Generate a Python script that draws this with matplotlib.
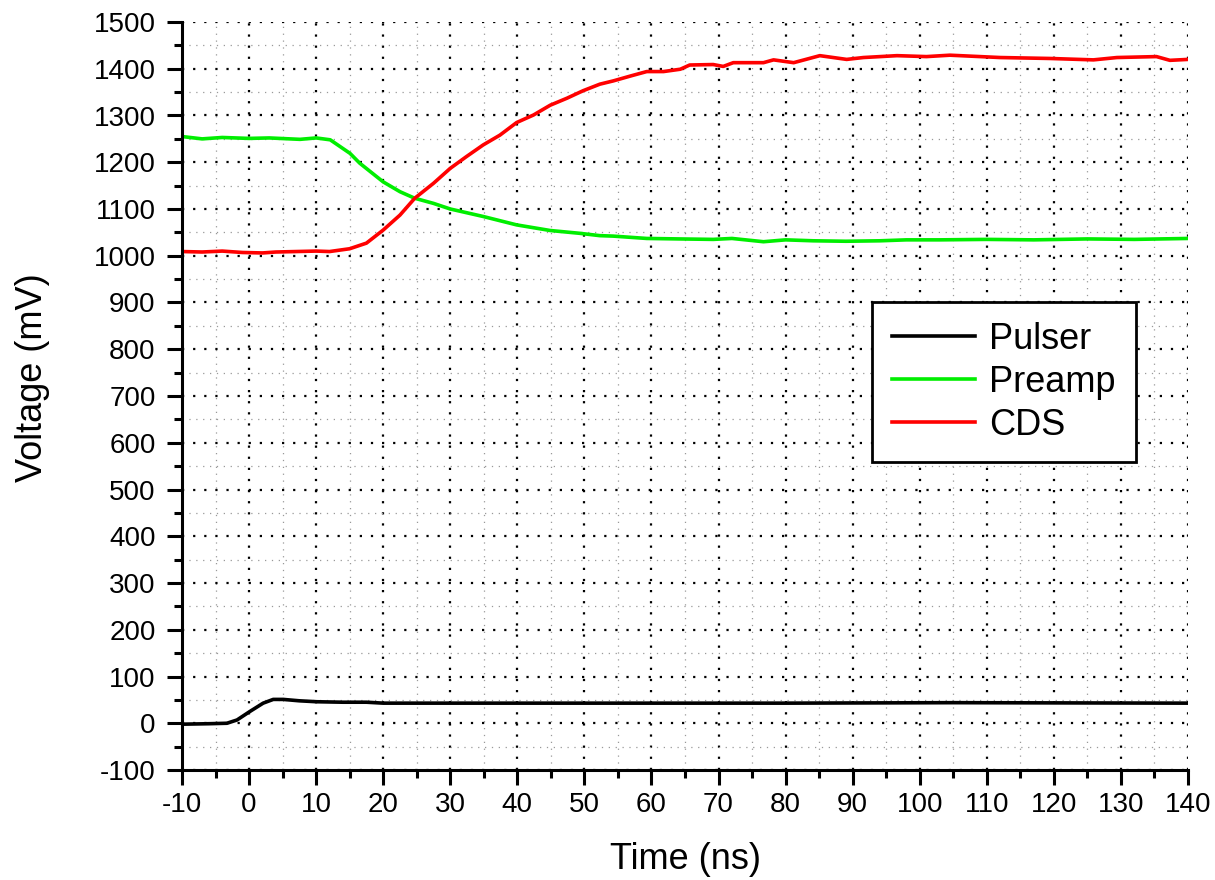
import numpy as np
import matplotlib.pyplot as plt
from matplotlib.ticker import MultipleLocator

plt.rcParams['font.family'] = ['Liberation Sans', 'DejaVu Sans']
plt.rcParams['axes.unicode_minus'] = False

# values (time in ns, voltage in mV)
pulser_t = [-10, -6, -3.3, -1.8, 0.1, 2.1, 3.6, 5.1, 7.5, 10.1, 14, 17.5, 20, 40, 80, 105, 140]
pulser_v = [-2, -1, 0, 7, 25, 43, 51, 51, 48, 46, 45, 45, 43, 43, 43, 44, 43]

preamp_t = [-10, -7, -4, 0, 3, 7.6, 10, 12.1, 15.05, 16.5, 20, 22.5, 24.7, 27.5, 30, 34.9,
            39.9, 44.9, 49.3, 52.3, 54.3, 59.3, 64, 69.2, 72, 76.7, 80, 84.1, 89, 94.1,
            98, 103, 110, 117, 125, 132, 140]
preamp_v = [1255, 1250, 1253, 1251, 1252, 1249, 1252, 1248, 1219, 1198, 1158, 1137, 1123,
            1112, 1100, 1084, 1066, 1054, 1048, 1043, 1042, 1037, 1036, 1035, 1037, 1030,
            1034, 1032, 1031, 1032, 1034, 1034, 1035, 1034, 1036, 1035, 1037]

cds_t = [-10, -7, -4, -1, 2, 4, 7, 10, 12, 15, 17.5, 20, 22.5, 24.7, 27.5, 30, 32.4, 34.9,
         37.4, 39.9, 42.4, 44.9, 47.4, 49.8, 52.3, 54.3, 57, 59.3, 61.8, 64.3, 65.7, 69.2,
         70.7, 72.2, 76.7, 78.2, 81.2, 85.1, 89.1, 91.6, 96.6, 101, 104.5, 112, 119.4,
         125.9, 129.4, 135.3, 137.3, 140]
cds_v = [1009, 1008, 1010, 1007, 1006, 1008, 1009, 1010, 1009, 1015, 1027, 1055, 1087, 1123,
         1155, 1187, 1212, 1237, 1258, 1285, 1301, 1322, 1337, 1353, 1367, 1374, 1385, 1394,
         1394, 1399, 1408, 1409, 1405, 1413, 1413, 1419, 1413, 1428, 1420, 1424, 1428, 1426,
         1429, 1424, 1422, 1419, 1424, 1426, 1418, 1420]

fig = plt.figure(figsize=(12.15, 8.8), dpi=100)
ax = fig.add_axes([0.1498, 0.125, 0.828, 0.85])

ax.plot(pulser_t, pulser_v, color='black', lw=2.6, label='Pulser')
ax.plot(preamp_t, preamp_v, color='#00ee00', lw=2.6, label='Preamp')
ax.plot(cds_t, cds_v, color='#ff0000', lw=2.6, label='CDS')

ax.set_xlim(-10, 140)
ax.set_ylim(-100, 1500)
ax.xaxis.set_major_locator(MultipleLocator(10))
ax.xaxis.set_minor_locator(MultipleLocator(5))
ax.yaxis.set_major_locator(MultipleLocator(100))
ax.yaxis.set_minor_locator(MultipleLocator(50))

ax.grid(which='major', color='black', lw=1.6, linestyle=(0, (1, 4)))
ax.grid(which='minor', color='#999999', lw=0.9, linestyle=(0, (1, 4.5)))
ax.set_axisbelow(True)

for s in ['top', 'right']:
    ax.spines[s].set_visible(False)
for s in ['left', 'bottom']:
    ax.spines[s].set_linewidth(2.2)

ax.tick_params(which='major', length=11, width=2.2, direction='out')
ax.tick_params(which='minor', length=6, width=2.2, direction='out')
ax.tick_params(axis='x', labelsize=20, pad=5)
ax.tick_params(axis='y', labelsize=20, pad=8)

ax.set_xlabel('Time (ns)', fontsize=26, labelpad=17)
ax.set_ylabel('Voltage (mV)', fontsize=26)
ax.yaxis.set_label_coords(-0.131, 0.524)

leg = ax.legend(loc='upper left', bbox_to_anchor=(0.686, 0.626), fontsize=26,
                fancybox=False, edgecolor='black', framealpha=1,
                handlelength=2.3, borderpad=0.55, labelspacing=0.22, handletextpad=0.4,
                borderaxespad=0)
leg.get_frame().set_linewidth(2.0)

fig.savefig('out.png', dpi=100)
